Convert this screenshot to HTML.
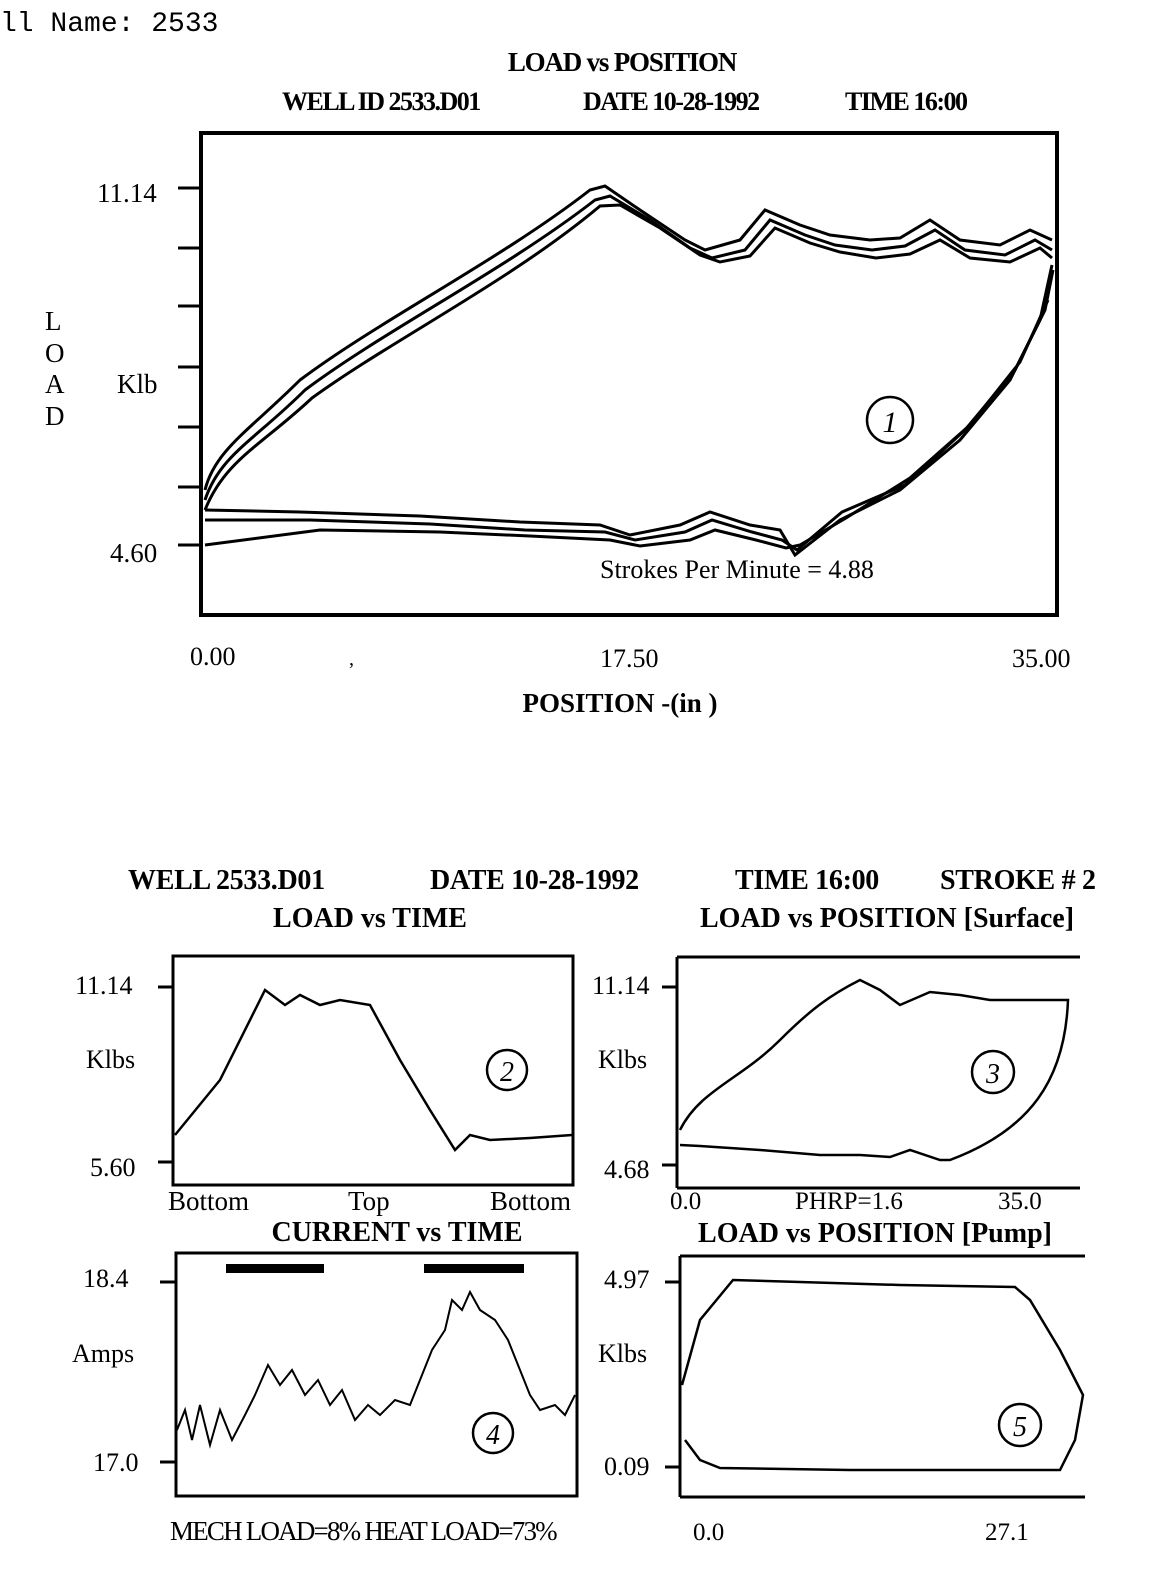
<!DOCTYPE html>
<html><head><meta charset="utf-8"><style>
html,body{margin:0;padding:0;background:#fff}
svg{display:block}
text{font-family:"Liberation Serif",serif;fill:#000}
.b{font-weight:bold}
</style></head><body>
<svg width="1169" height="1584" viewBox="0 0 1169 1584" xmlns="http://www.w3.org/2000/svg">
<text x="0" y="31" style="font-family:'Liberation Mono',monospace;font-size:28px">ll Name:  2533</text>
<text x="622" y="71" text-anchor="middle" class="b" font-size="27" letter-spacing="-1.2">LOAD vs POSITION</text>
<text x="282" y="110" class="b" font-size="26" letter-spacing="-1.5">WELL ID 2533.D01</text>
<text x="583" y="110" class="b" font-size="26" letter-spacing="-1.5">DATE 10-28-1992</text>
<text x="845" y="110" class="b" font-size="26" letter-spacing="-1.5">TIME 16:00</text>
<rect x="201" y="133" width="856" height="482" fill="none" stroke="#000" stroke-width="4"/>
<g stroke="#000" stroke-width="3">
<line x1="178" y1="188" x2="201" y2="188"/><line x1="178" y1="248" x2="201" y2="248"/>
<line x1="178" y1="306" x2="201" y2="306"/><line x1="178" y1="367" x2="201" y2="367"/>
<line x1="178" y1="427" x2="201" y2="427"/><line x1="178" y1="487" x2="201" y2="487"/>
<line x1="178" y1="545" x2="201" y2="545"/>
</g>
<text x="97" y="202" font-size="27">11.14</text>
<text x="110" y="562" font-size="27">4.60</text>
<g style="font-family:'Liberation Mono',monospace" font-size="27"><text x="45" y="330">L</text><text x="45" y="362">O</text><text x="45" y="393">A</text><text x="45" y="425">D</text></g>
<text x="117" y="393" font-size="27">Klb</text>
<text x="190" y="665" font-size="26">0.00</text>
<text x="349" y="665" font-size="20">,</text>
<text x="600" y="667" font-size="26">17.50</text>
<text x="1012" y="667" font-size="26">35.00</text>
<text x="620" y="712" text-anchor="middle" class="b" font-size="27">POSITION -(in )</text>
<circle cx="890" cy="420" r="23" fill="none" stroke="#000" stroke-width="2.5"/>
<text x="890" y="432" text-anchor="middle" font-size="30" font-style="italic">1</text>
<text x="600" y="578" font-size="26">Strokes Per Minute = 4.88</text>
<g fill="none" stroke="#000" stroke-width="3">
<path d="M205,490 C215,450 250,430 300,380 C380,320 500,260 590,190 L605,186 L640,210 L685,240 L705,250 L740,240 L765,210 L800,225 L830,235 L870,240 L900,238 L930,220 L960,240 L1000,245 L1030,230 L1052,240"/>
<path d="M205,500 C220,455 255,440 305,390 C385,330 505,270 595,200 L610,196 L650,220 L690,248 L712,258 L745,250 L770,220 L805,235 L835,245 L872,250 L905,246 L935,230 L965,250 L1005,255 L1035,240 L1052,250"/>
<path d="M205,510 C225,460 262,445 312,398 C392,340 512,280 600,206 L620,205 L660,228 L700,255 L720,262 L750,256 L775,228 L810,243 L840,252 L876,258 L910,254 L940,240 L970,258 L1010,262 L1040,248 L1052,258"/>
<path d="M205,510 L300,512 L420,516 L520,522 L600,525 L630,535 L680,525 L710,512 L750,525 L780,530 L795,555 L840,520 L900,490 L960,440 L1010,380 L1040,320 L1052,265"/>
<path d="M205,520 L310,520 L430,524 L525,530 L605,532 L635,540 L685,532 L712,520 L752,532 L782,540 L797,550 L842,512 L905,485 L965,430 L1015,370 L1045,310 L1053,270"/>
<path d="M205,545 L320,530 L440,532 L530,536 L610,540 L640,546 L690,540 L715,530 L756,540 L786,548 L800,545 L846,518 L910,478 L970,425 L1020,362 L1048,300"/>
</g>
<text x="128" y="889" class="b" font-size="28" letter-spacing="-0.3">WELL 2533.D01</text>
<text x="430" y="889" class="b" font-size="28" letter-spacing="-0.3">DATE 10-28-1992</text>
<text x="735" y="889" class="b" font-size="28" letter-spacing="-0.3">TIME 16:00</text>
<text x="940" y="889" class="b" font-size="28" letter-spacing="-0.3">STROKE # 2</text>
<text x="370" y="927" text-anchor="middle" class="b" font-size="28">LOAD vs TIME</text>
<text x="887" y="927" text-anchor="middle" class="b" font-size="28">LOAD vs POSITION [Surface]</text>
<rect x="173" y="956" width="400" height="229" fill="none" stroke="#000" stroke-width="3"/>
<line x1="158" y1="987" x2="173" y2="987" stroke="#000" stroke-width="3"/>
<line x1="158" y1="1162" x2="173" y2="1162" stroke="#000" stroke-width="3"/>
<text x="75" y="994" font-size="26">11.14</text><text x="86" y="1068" font-size="26">Klbs</text><text x="90" y="1176" font-size="26">5.60</text>
<text x="168" y="1210" font-size="27">Bottom</text><text x="348" y="1210" font-size="27">Top</text><text x="490" y="1210" font-size="27">Bottom</text>
<path fill="none" stroke="#000" stroke-width="2.5" d="M175,1135 L220,1080 L265,990 L285,1005 L300,995 L320,1005 L340,1000 L370,1005 L400,1060 L430,1110 L455,1150 L470,1135 L490,1140 L530,1138 L572,1135"/>
<circle cx="507" cy="1070" r="20" fill="none" stroke="#000" stroke-width="2.5"/><text x="507" y="1081" text-anchor="middle" font-size="28" font-style="italic">2</text>
<text x="397" y="1241" text-anchor="middle" class="b" font-size="28">CURRENT vs TIME</text>
<rect x="176" y="1253" width="401" height="243" fill="none" stroke="#000" stroke-width="3"/>
<line x1="160" y1="1282" x2="176" y2="1282" stroke="#000" stroke-width="3"/>
<line x1="160" y1="1462" x2="176" y2="1462" stroke="#000" stroke-width="3"/>
<text x="83" y="1287" font-size="26">18.4</text><text x="72" y="1362" font-size="26">Amps</text><text x="93" y="1471" font-size="26">17.0</text>
<rect x="226" y="1264" width="98" height="9" fill="#000"/><rect x="424" y="1264" width="100" height="9" fill="#000"/>
<path fill="none" stroke="#000" stroke-width="2" d="M177,1430 L185,1410 L192,1440 L200,1405 L210,1445 L220,1410 L232,1440 L245,1415 L255,1395 L268,1365 L280,1385 L292,1370 L305,1395 L318,1380 L330,1405 L342,1390 L355,1420 L368,1405 L380,1415 L395,1400 L410,1405 L420,1380 L432,1350 L445,1330 L452,1300 L462,1310 L470,1292 L480,1310 L495,1320 L508,1340 L520,1370 L530,1395 L540,1410 L555,1405 L565,1415 L575,1395"/>
<circle cx="493" cy="1433" r="20" fill="none" stroke="#000" stroke-width="2.5"/><text x="493" y="1444" text-anchor="middle" font-size="28" font-style="italic">4</text>
<text x="170" y="1540" font-size="27" letter-spacing="-1.8">MECH LOAD=8% HEAT LOAD=73%</text>
<g stroke="#000" stroke-width="3"><line x1="677" y1="957" x2="1080" y2="957"/><line x1="677" y1="957" x2="677" y2="1188"/><line x1="677" y1="1188" x2="1080" y2="1188"/>
<line x1="662" y1="987" x2="677" y2="987"/><line x1="662" y1="1165" x2="677" y2="1165"/></g>
<text x="592" y="994" font-size="26">11.14</text><text x="598" y="1068" font-size="26">Klbs</text><text x="604" y="1178" font-size="26">4.68</text>
<text x="670" y="1209" font-size="25">0.0</text><text x="795" y="1209" font-size="25">PHRP=1.6</text><text x="998" y="1209" font-size="25">35.0</text>
<path fill="none" stroke="#000" stroke-width="2.5" d="M680,1130 C700,1090 740,1080 780,1040 C810,1010 830,995 860,980 L880,990 L900,1005 L930,992 L960,995 L990,1000 L1020,1000 L1050,1000 L1068,1000 C1065,1080 1030,1130 950,1160 L940,1160 L910,1150 L890,1157 L860,1155 L820,1155 L760,1150 L700,1146 L680,1145"/>
<circle cx="993" cy="1072" r="21" fill="none" stroke="#000" stroke-width="2.5"/><text x="993" y="1083" text-anchor="middle" font-size="28" font-style="italic">3</text>
<text x="875" y="1242" text-anchor="middle" class="b" font-size="28">LOAD vs POSITION [Pump]</text>
<g stroke="#000" stroke-width="3"><line x1="680" y1="1256" x2="1085" y2="1256"/><line x1="680" y1="1256" x2="680" y2="1497"/><line x1="680" y1="1497" x2="1085" y2="1497"/>
<line x1="665" y1="1282" x2="680" y2="1282"/><line x1="665" y1="1467" x2="680" y2="1467"/></g>
<text x="604" y="1288" font-size="26">4.97</text><text x="598" y="1362" font-size="26">Klbs</text><text x="604" y="1475" font-size="26">0.09</text>
<text x="693" y="1540" font-size="25">0.0</text><text x="985" y="1540" font-size="25">27.1</text>
<path fill="none" stroke="#000" stroke-width="2.5" d="M682,1385 L700,1320 L733,1280 L800,1282 L900,1285 L1015,1287 L1030,1300 L1060,1350 L1083,1395 L1075,1440 L1060,1470 L950,1470 L850,1470 L720,1468 L700,1460 L685,1440"/>
<circle cx="1020" cy="1425" r="21" fill="none" stroke="#000" stroke-width="2.5"/><text x="1020" y="1436" text-anchor="middle" font-size="28" font-style="italic">5</text>
</svg>
</body></html>
